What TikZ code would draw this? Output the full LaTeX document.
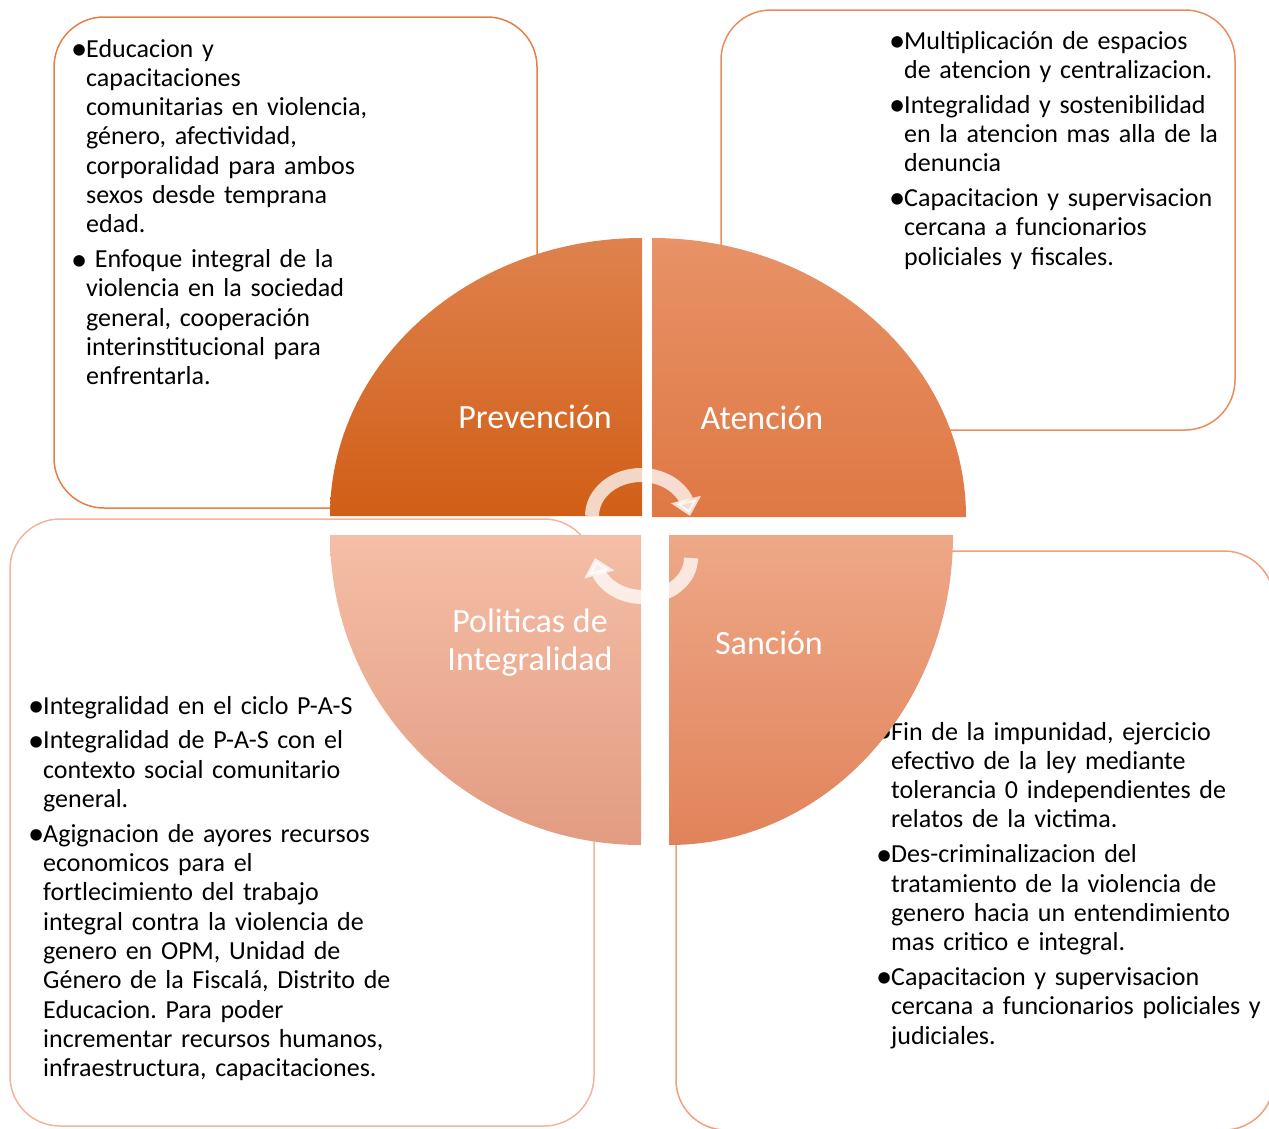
\documentclass[tikz,border=0pt]{standalone}
\usepackage{fontspec}
\setmainfont{Carlito}
\frenchspacing
\usetikzlibrary{positioning,arrows.meta,bending}

\definecolor{prevtop}{RGB}{223,130,78}
\definecolor{prevbot}{RGB}{209,94,22}
\definecolor{atentop}{RGB}{232,146,103}
\definecolor{atenbot}{RGB}{223,120,68}
\definecolor{politop}{RGB}{245,190,166}
\definecolor{polibot}{RGB}{226,156,130}
\definecolor{sanctop}{RGB}{238,168,135}
\definecolor{sancbot}{RGB}{225,131,90}
\definecolor{lineP}{RGB}{228,128,70}
\definecolor{lineA}{RGB}{234,140,92}
\definecolor{lineI}{RGB}{244,180,154}
\definecolor{lineS}{RGB}{239,160,124}

% one bulleted paragraph, later lines hang under the text
\newcommand{\pitem}{\parskip=5.5pt\hangindent=11pt\hangafter=1\noindent
  \makebox[11pt][l]{\hspace*{-4pt}\raisebox{-2.4pt}{\scalebox{1.25}{\textbullet}}}}

\begin{document}
\begin{tikzpicture}[x=1pt,y=1pt,
    panel/.style={line width=1.5pt,rounded corners=50pt},
    quadlabel/.style={text=white,font=\fontsize{34}{38}\selectfont,align=center,inner sep=0pt},
    bullets/.style={anchor=base west,inner sep=0pt,text width=#1,align=left,
                    font=\fontsize{26}{29.3}\selectfont},
    turnarrow/.style={white,opacity=0.75,line width=14pt,
                      -{Triangle[width=30pt,length=17pt]}}]
    \useasboundingbox (0,0) rectangle (1269,-1128);

    % frames behind the circle
    \draw[panel,draw=lineP] (54,-17)  rectangle (537,-508);
    \draw[panel,draw=lineA] (721,-10) rectangle (1235,-430);
    \draw[panel,draw=lineI] (10,-519) rectangle (594,-1126);
    \draw[panel,draw=lineS] (676,-551) rectangle (1274,-1130);

    \node[bullets=330pt] (txtP) at (75,-57) {%
      \pitem Educacion y\newline capacitaciones\newline comunitarias en violencia,\newline
      género, afectividad,\newline corporalidad para ambos\newline sexos desde temprana\newline edad.\par
      \pitem\ Enfoque integral de la\newline violencia en la sociedad\newline general, cooperación\newline
      interinstitucional para\newline enfrentarla.\par};
    \node[bullets=360pt] (txtA) at (893,-49) {%
      \pitem Multiplicación de espacios\newline de atencion y centralizacion.\par
      \pitem Integralidad y sostenibilidad\newline en la atencion mas alla de la\newline denuncia\par
      \pitem Capacitacion y supervisacion\newline cercana a funcionarios\newline policiales y fiscales.\par};
    \node[bullets=400pt] (txtI) at (32,-714) {%
      \pitem Integralidad en el ciclo P-A-S\par
      \pitem Integralidad de P-A-S con el\newline contexto social comunitario\newline general.\par
      \pitem Agignacion de ayores recursos\newline economicos para el\newline fortlecimiento del trabajo\newline
      integral contra la violencia de\newline genero en OPM, Unidad de\newline Género de la Fiscalá, Distrito de\newline
      Educacion. Para poder\newline incrementar recursos humanos,\newline infraestructura, capacitaciones.\par};
    \node[bullets=420pt] (txtS) at (880,-740) {%
      \pitem Fin de la impunidad, ejercicio\newline efectivo de la ley mediante\newline tolerancia 0 independientes de\newline
      relatos de la victima.\par
      \pitem Des-criminalizacion del\newline tratamiento de la violencia de\newline genero hacia un entendimiento\newline
      mas critico e integral.\par
      \pitem Capacitacion y supervisacion\newline cercana a funcionarios policiales y\newline judiciales.\par};

    % the four quarters
    \coordinate (cP) at (642,-516);
    \coordinate (cA) at (652,-517);
    \coordinate (cI) at (641,-535);
    \coordinate (cS) at (669,-535);
    \path[top color=prevtop,bottom color=prevbot]
      (cP) -- ++(-312,0) arc[start angle=180,end angle=90,x radius=312,y radius=278] -- cycle;
    \path[top color=atentop,bottom color=atenbot]
      (cA) -- ++(0,279) arc[start angle=90,end angle=0,x radius=314,y radius=279] -- cycle;
    \path[top color=politop,bottom color=polibot]
      (cI) -- ++(-311,0) arc[start angle=180,end angle=270,x radius=311,y radius=310] -- cycle;
    \path[top color=sanctop,bottom color=sancbot]
      (cS) -- ++(284,0) arc[start angle=0,end angle=-90,x radius=284,y radius=310] -- cycle;

    \node[quadlabel] (lblP) at (535,-417) {Prevención};
    \node[quadlabel] (lblA) at (762,-418) {Atención};
    \node[quadlabel] (lblI) at (530,-643) {Politicas de\\Integralidad};
    \node[quadlabel] (lblS) at (769,-643) {Sanción};

    % turning arrows in the middle
    \coordinate (hubU) at (641,-516);
    \coordinate (hubL) at (643,-558);
    \draw[turnarrow] ([shift={(180:49 and 41)}]hubU)
      arc[start angle=180,end angle=0,x radius=49,y radius=41];
    \draw[turnarrow] ([shift={(0:48 and 39)}]hubL)
      arc[start angle=0,end angle=-180,x radius=48,y radius=39];
\end{tikzpicture}
\end{document}
